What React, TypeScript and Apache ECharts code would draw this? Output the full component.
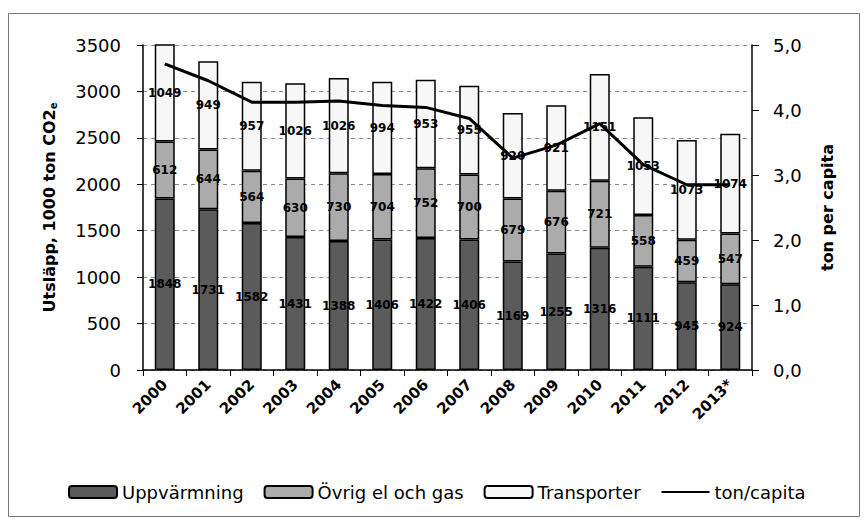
import React, { useEffect, useRef } from "react";
import * as echarts from "echarts";

const categories = ["2000", "2001", "2002", "2003", "2004", "2005", "2006", "2007", "2008", "2009", "2010", "2011", "2012", "2013*"];
const uppvarmning = [1848, 1731, 1582, 1431, 1388, 1406, 1422, 1406, 1169, 1255, 1316, 1111, 945, 924];
const ovrigElOchGas = [612, 644, 564, 630, 730, 704, 752, 700, 679, 676, 721, 558, 459, 547];
const transporter = [1049, 949, 957, 1026, 1026, 994, 953, 955, 920, 921, 1151, 1053, 1073, 1074];
const tonPerCapita = [4.71, 4.45, 4.12, 4.12, 4.14, 4.07, 4.04, 3.87, 3.26, 3.46, 3.79, 3.16, 2.85, 2.85];

const FONT = "DejaVu Sans";

export default function App() {
  const ref = useRef<HTMLDivElement>(null);
  useEffect(() => {
    if (!ref.current) return;
    const chart = echarts.init(ref.current, null, { renderer: "svg" });
    const barLabel = {
      show: true,
      position: "inside",
      color: "#000",
      fontFamily: FONT,
      fontSize: 12,
      fontWeight: "bold",
    };
    chart.setOption({
      animation: false,
      backgroundColor: "#fff",
      textStyle: { fontFamily: FONT },
      graphic: [
        {
          type: "rect",
          shape: { x: 8.5, y: 13.5, width: 851, height: 503 },
          style: { fill: "none", stroke: "#777", lineWidth: 1 },
          z: -10,
          silent: true,
        },
      ],
      grid: { left: 143, right: 112, top: 45, bottom: 153 },
      legend: {
        left: 63,
        top: 478,
        itemWidth: 48,
        itemHeight: 12,
        itemGap: 20,
        textStyle: { fontFamily: FONT, fontSize: 18, color: "#000" },
        data: [
          { name: "Uppvärmning" },
          { name: "Övrig el och gas" },
          { name: "Transporter" },
          { name: "ton/capita", itemStyle: { opacity: 0, color: "rgba(0,0,0,0)", borderWidth: 0 } },
        ],
      },
      xAxis: {
        type: "category",
        data: categories,
        axisLine: { lineStyle: { color: "#000", width: 1.5 } },
        axisTick: { show: true, length: 6, lineStyle: { color: "#000" } },
        axisLabel: {
          rotate: 45,
          margin: 12,
          color: "#000",
          fontFamily: FONT,
          fontSize: 15,
          fontWeight: "bold",
          interval: 0,
        },
      },
      yAxis: [
        {
          type: "value",
          min: 0,
          max: 3500,
          interval: 500,
          name: "Utsläpp, 1000 ton CO2{sub|e}",
          nameLocation: "middle",
          nameRotate: 90,
          nameGap: 85,
          nameTextStyle: {
            fontFamily: FONT,
            fontSize: 16,
            fontWeight: "bold",
            color: "#000",
            rich: {
              sub: { fontFamily: FONT, fontSize: 10, fontWeight: "bold", color: "#000", verticalAlign: "bottom", padding: [8, 0, 0, 0] },
            },
          },
          axisLine: { show: true, lineStyle: { color: "#000", width: 1.5 } },
          axisTick: { show: true, length: 6, lineStyle: { color: "#000" } },
          axisLabel: {
            margin: 22,
            color: "#000",
            fontFamily: FONT,
            fontSize: 18,
            formatter: (v: number) => String(v),
          },
          splitLine: { show: true, lineStyle: { color: "#888", type: [4, 4], width: 1 } },
        },
        {
          type: "value",
          min: 0,
          max: 5,
          interval: 1,
          position: "right",
          name: "ton per capita",
          nameLocation: "middle",
          nameRotate: 90,
          nameGap: 67,
          nameTextStyle: { fontFamily: FONT, fontSize: 16, fontWeight: "bold", color: "#000" },
          axisLine: { show: true, lineStyle: { color: "#000", width: 1.5 } },
          axisTick: { show: true, length: 7, lineStyle: { color: "#000" } },
          axisLabel: {
            margin: 21,
            color: "#000",
            fontFamily: FONT,
            fontSize: 18,
            formatter: (v: number) => v.toFixed(1).replace(".", ","),
          },
          splitLine: { show: false },
        },
      ],
      series: [
        {
          name: "Uppvärmning",
          type: "bar",
          stack: "total",
          barWidth: 20,
          data: uppvarmning,
          itemStyle: { color: "#5b5b5b", borderColor: "#000", borderWidth: 1.5 },
          label: barLabel,
        },
        {
          name: "Övrig el och gas",
          type: "bar",
          stack: "total",
          barWidth: 20,
          data: ovrigElOchGas,
          itemStyle: { color: "#ababab", borderColor: "#000", borderWidth: 1.5 },
          label: barLabel,
        },
        {
          name: "Transporter",
          type: "bar",
          stack: "total",
          barWidth: 20,
          data: transporter,
          itemStyle: { color: "#f7f7f7", borderColor: "#000", borderWidth: 1.5 },
          label: barLabel,
        },
        {
          name: "ton/capita",
          type: "line",
          yAxisIndex: 1,
          data: tonPerCapita,
          symbol: "none",
          lineStyle: { color: "#000", width: 3 },
          itemStyle: { color: "#000" },
          z: 5,
        },
      ],
    });
    return () => chart.dispose();
  }, []);
  return (
    <div
      ref={ref}
      style={{ position: "fixed", left: 0, top: 0, width: 864, height: 523 }}
    />
  );
}
